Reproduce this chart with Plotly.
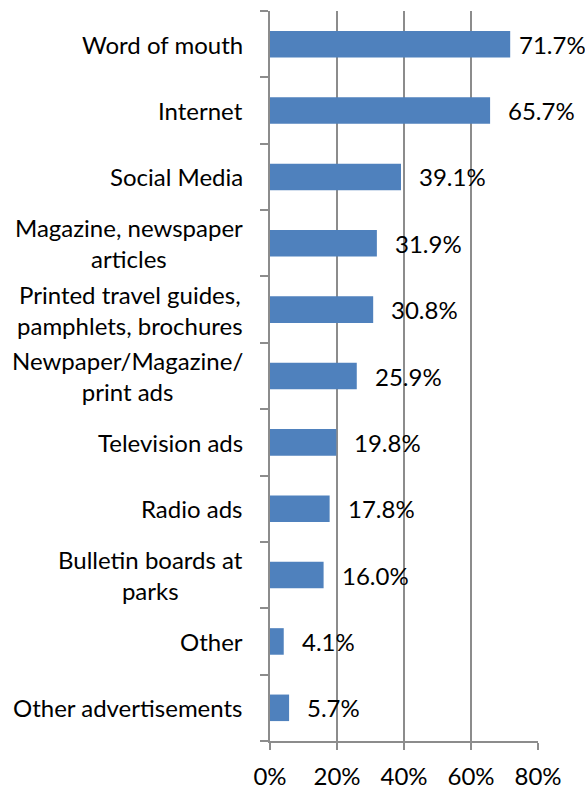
import plotly.graph_objects as go

# Survey responses: where people heard about the parks (share of respondents, %)
categories = [
    "Word of mouth",
    "Internet",
    "Social Media",
    "Magazine, newspaper<br>articles",
    "Printed travel guides,<br>pamphlets, brochures",
    "Newpaper/Magazine/<br>print ads",
    "Television ads",
    "Radio ads",
    "Bulletin boards at<br>parks",
    "Other",
    "Other advertisements",
]
values = [71.7, 65.7, 39.1, 31.9, 30.8, 25.9, 19.8, 17.8, 16.0, 4.1, 5.7]
x_ticks = [0, 20, 40, 60, 80]

FONT = "Lato"
FS = 24
GREY = "#8c8c8c"
BAR = "#4f81bd"

W, H = 585, 789
L, R, T, B = 270, 47, 11, 48
XMAX = 80

fig = go.Figure(
    go.Bar(
        x=values,
        y=categories,
        orientation="h",
        marker=dict(color=BAR, line=dict(width=0)),
        width=0.4,
        hoverinfo="skip",
    )
)

annotations = []
# category labels, centred multi-line text to the left of the axis
for cat in categories:
    annotations.append(
        dict(
            x=0, xref="paper", y=cat, yref="y",
            text=cat, showarrow=False,
            xanchor="right", yanchor="middle", align="center",
            xshift=-25,
            font=dict(family=FONT, size=FS, color="#000000"),
        )
    )

# value labels just past the end of each bar, kept inside the figure
plot_w = W - L - R
label_w = 66
for cat, v in zip(categories, values):
    end_px = L + v / XMAX * plot_w
    shift = min(16, W - 2 - end_px - label_w)
    annotations.append(
        dict(
            x=v, xref="x", y=cat, yref="y",
            text=f"{v:.1f}%", showarrow=False,
            xanchor="left", yanchor="middle",
            xshift=shift,
            font=dict(family=FONT, size=FS, color="#000000"),
        )
    )

fig.update_layout(
    width=W, height=H,
    margin=dict(l=L, r=R, t=T, b=B, pad=0),
    paper_bgcolor="white",
    plot_bgcolor="white",
    showlegend=False,
    font=dict(family=FONT, size=FS, color="#000000"),
    annotations=annotations,
    xaxis=dict(
        range=[0, XMAX],
        tickvals=x_ticks,
        ticktext=[f"{t}%" for t in x_ticks],
        ticks="outside", ticklen=7, tickcolor=GREY, tickwidth=1.5,
        ticklabelstandoff=6,
        automargin=False,
        showline=True, linecolor=GREY, linewidth=1.5,
        showgrid=True, gridcolor=GREY, gridwidth=1.5,
        zeroline=False,
        tickfont=dict(family=FONT, size=FS, color="#000000"),
        fixedrange=True,
    ),
    yaxis=dict(
        categoryorder="array",
        categoryarray=categories[::-1],
        tickson="boundaries",
        ticks="outside", ticklen=8, tickcolor=GREY, tickwidth=1.5,
        showline=True, linecolor=GREY, linewidth=1.5,
        showgrid=False,
        showticklabels=False,
        zeroline=False,
        automargin=False,
        fixedrange=True,
    ),
)

fig.write_html("out.html")
